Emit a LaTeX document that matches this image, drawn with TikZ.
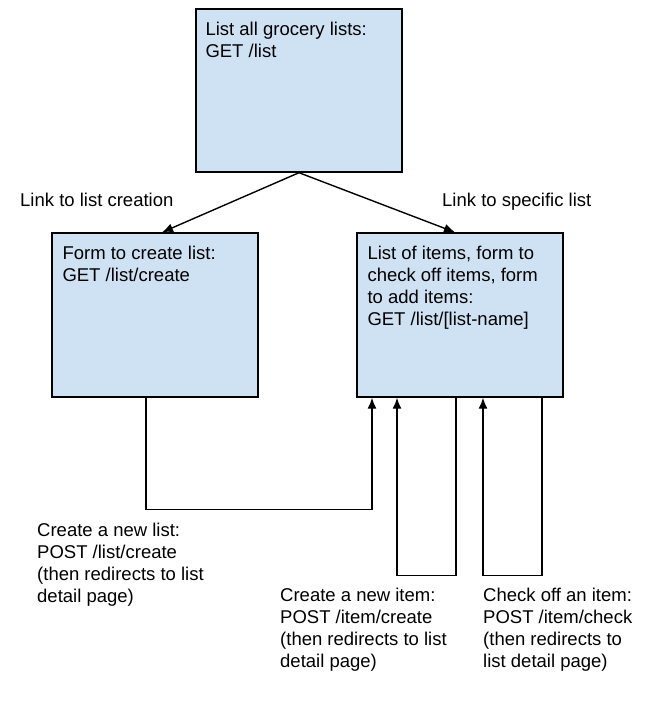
\documentclass[tikz,border=0pt]{standalone}
\usepackage{fontspec}
\setmainfont{Liberation Sans}
\usepackage{tikz}
\usetikzlibrary{arrows.meta,positioning}

\definecolor{pageblue}{HTML}{CFE2F3}

\begin{document}
\begin{tikzpicture}[x=1pt,y=-1pt]
		\tikzstyle{Page}	= [rectangle, draw=black, line width=1.4pt, fill=pageblue, minimum width=206pt, inner sep=0pt]
		\tikzstyle{Caption}	= [anchor=north west, align=left, inner sep=0pt, font=\fontsize{18.5}{22}\selectfont, execute at begin node=\strut]
		\tikzstyle{Link}	= [line width=1.4pt, -{Latex[length=11pt,width=9pt]}]
		\tikzstyle{Route}	= [Link]

		\useasboundingbox (0,0) rectangle (652,715);

		% the three pages
		\node (top) at (299,90.5) [Page, minimum height=163pt] {};
		\node (form) at (155,315) [Page, minimum height=164pt] {};
		\node (detail) at (460,315) [Page, minimum height=164pt] {};

		\node (toptext) at ([shift={(10pt,-13.6pt)}]top.north west) [Caption] {List all grocery lists:\\GET /list};
		\node (formtext) at ([shift={(11pt,-13.6pt)}]form.north west) [Caption] {Form to create list:\\GET /list/create};
		\node (detailtext) at ([shift={(11pt,-13.6pt)}]detail.north west) [Caption] {List of items, form to\\check off items, form\\to add items:\\GET /list/[list-name]};

		% links
		\draw [Link] (top.south) to ([xshift=7pt]form.north);
		\draw [Link] (top.south) to ([xshift=-5pt]detail.north);
		\node (linkform) at (20,190.6) [Caption] {Link to list creation};
		\node (linkdetail) at (442,190.6) [Caption] {Link to specific list};

		% posts that come back to the detail page
		\draw [Route] ([xshift=-9pt]form.south) -- ++(0,112) -| ([xshift=-88pt]detail.south);
		\draw [Route] ([xshift=-4pt]detail.south) -- ++(0,178) -| ([xshift=-63pt]detail.south);
		\draw [Route] ([xshift=82pt]detail.south) -- ++(0,178) -| ([xshift=23pt]detail.south);

		\node (newlist) at (37,522.6) [Caption] {Create a new list:\\POST /list/create\\(then redirects to list\\detail page)};
		\node (newitem) at (280,587.6) [Caption] {Create a new item:\\POST /item/create\\(then redirects to list\\detail page)};
		\node (checkitem) at (483,587.6) [Caption] {Check off an item:\\POST /item/check\\(then redirects to\\list detail page)};
	\end{tikzpicture}
\end{document}
